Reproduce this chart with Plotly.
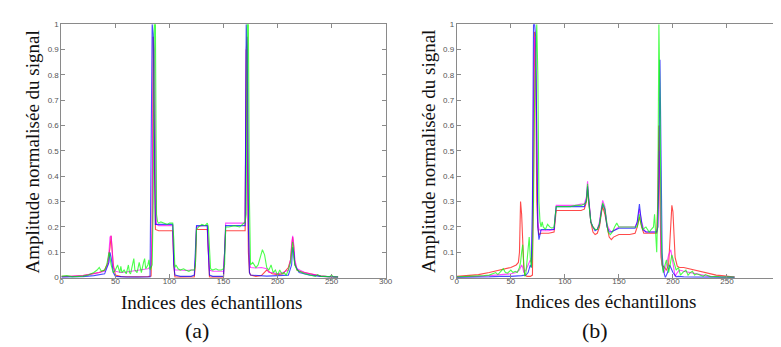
import plotly.graph_objects as go

# ---------------- data: (sample index, normalised amplitude) ----------------
a_red = [(0,0.005),(10,0.005),(20,0.008),(25,0.012),(30,0.015),(35,0.02),(40,0.03),(43,0.06),(45,0.12),(46,0.165),(48,0.05),(50,0.01),(55,0.004),(60,0.003),(70,0.003),(80,0.004),(83,0.006),(84,0.2),(85,0.95),(86,0.45),(87,0.19),(90,0.185),(95,0.185),(100,0.186),(103,0.185),(104,0.05),(105,0.003),(110,0.002),(115,0.002),(120,0.002),(123,0.003),(124,0.05),(125,0.19),(130,0.19),(135,0.19),(136,0.1),(137,0.003),(140,0.002),(145,0.002),(150,0.002),(151,0.1),(152,0.185),(155,0.185),(160,0.186),(165,0.185),(170,0.185),(171,0.9),(172,0.45),(173,0.1),(174,0.02),(175,0.01),(180,0.005),(185,0.008),(190,0.03),(195,0.015),(200,0.012),(205,0.015),(210,0.04),(212,0.07),(213,0.12),(214,0.16),(215,0.12),(216,0.06),(218,0.03),(220,0.025),(225,0.02),(230,0.015),(235,0.01),(240,0.006),(245,0.004),(250,0.003),(256,0.002)]

a_magenta = [(0,0.003),(10,0.005),(20,0.008),(25,0.012),(30,0.015),(35,0.02),(40,0.025),(43,0.05),(44,0.1),(45,0.16),(46,0.165),(47,0.1),(48,0.04),(50,0.025),(55,0.02),(60,0.022),(65,0.025),(70,0.028),(75,0.03),(80,0.035),(82,0.04),(83,0.045),(84,0.2),(85,0.95),(86,0.9),(87,0.4),(88,0.21),(90,0.205),(95,0.205),(100,0.205),(103,0.205),(104,0.06),(105,0.03),(110,0.03),(115,0.028),(120,0.03),(123,0.03),(124,0.08),(125,0.2),(130,0.205),(135,0.205),(136,0.1),(137,0.03),(140,0.025),(145,0.025),(150,0.025),(151,0.1),(152,0.215),(155,0.215),(160,0.215),(165,0.215),(170,0.215),(171,0.9),(172,0.95),(173,0.3),(174,0.06),(175,0.04),(180,0.038),(185,0.04),(190,0.035),(192,0.02),(195,0.02),(200,0.015),(205,0.02),(210,0.03),(212,0.07),(213,0.13),(214,0.165),(215,0.13),(216,0.07),(218,0.035),(220,0.03),(225,0.02),(230,0.015),(235,0.01),(240,0.007),(245,0.005),(250,0.004),(256,0.002)]

a_blue = [(0,0.002),(10,0.002),(20,0.004),(30,0.008),(40,0.015),(44,0.06),(45,0.1),(46,0.08),(48,0.02),(50,0.005),(60,0.002),(70,0.002),(80,0.002),(82,0.003),(83,0.5),(84,1.0),(85,0.96),(86,0.5),(87,0.21),(90,0.21),(95,0.21),(100,0.21),(103,0.21),(104,0.05),(105,0.01),(110,0.005),(120,0.005),(123,0.01),(124,0.1),(125,0.205),(130,0.205),(135,0.205),(136,0.1),(137,0.01),(140,0.005),(150,0.005),(151,0.1),(152,0.205),(160,0.205),(170,0.205),(171,1.0),(172,0.9),(173,0.2),(174,0.02),(175,0.01),(180,0.008),(190,0.006),(200,0.008),(210,0.01),(213,0.05),(214,0.12),(215,0.1),(216,0.05),(220,0.02),(230,0.01),(240,0.005),(250,0.003),(256,0.002)]

a_green = [(0,0.005),(5,0.008),(10,0.003),(15,0.004),(20,0.006),(25,0.01),(30,0.02),(33,0.03),(35,0.04),(37,0.025),(40,0.03),(42,0.05),(44,0.1),(45,0.08),(46,0.05),(48,0.02),(50,0.03),(52,0.05),(54,0.02),(55,0.045),(56,0.02),(58,0.03),(60,0.015),(62,0.05),(63,0.02),(64,0.015),(66,0.06),(67,0.075),(68,0.03),(70,0.02),(72,0.06),(73,0.03),(74,0.02),(76,0.06),(77,0.075),(78,0.035),(80,0.05),(81,0.07),(82,0.03),(83,0.04),(84,0.05),(85,0.3),(86,1.0),(87,1.0),(88,0.25),(89,0.22),(90,0.215),(92,0.22),(95,0.215),(98,0.21),(100,0.215),(103,0.215),(104,0.15),(105,0.04),(106,0.05),(108,0.035),(110,0.03),(113,0.035),(115,0.03),(118,0.025),(120,0.03),(123,0.03),(124,0.05),(125,0.19),(127,0.2),(130,0.21),(133,0.205),(135,0.215),(136,0.2),(137,0.08),(138,0.035),(140,0.03),(143,0.035),(145,0.03),(148,0.03),(150,0.035),(151,0.05),(152,0.2),(155,0.2),(160,0.205),(165,0.2),(170,0.22),(171,0.25),(172,1.0),(173,1.0),(174,0.3),(175,0.05),(177,0.06),(180,0.04),(182,0.05),(184,0.08),(186,0.11),(188,0.09),(190,0.04),(192,0.03),(194,0.05),(196,0.02),(198,0.03),(200,0.01),(202,0.03),(204,0.015),(206,0.02),(208,0.01),(210,0.03),(212,0.06),(213,0.12),(214,0.14),(215,0.08),(216,0.05),(218,0.03),(220,0.025),(222,0.02),(225,0.015),(228,0.012),(230,0.01),(233,0.01),(235,0.005),(237,0.012),(240,0.005),(245,0.005),(248,0.003),(250,0.01),(252,0.002),(256,0.003)]

b_red = [(0,0.005),(10,0.008),(20,0.012),(30,0.02),(40,0.03),(50,0.04),(55,0.05),(57,0.06),(58,0.1),(59,0.3),(60,0.25),(61,0.1),(62,0.04),(63,0.01),(65,0.005),(68,0.005),(70,0.01),(71,0.4),(72,0.97),(73,0.8),(74,0.3),(75,0.2),(76,0.17),(78,0.175),(80,0.175),(85,0.175),(90,0.18),(91,0.24),(92,0.265),(95,0.265),(100,0.265),(105,0.265),(110,0.265),(115,0.265),(118,0.27),(120,0.3),(121,0.35),(122,0.3),(124,0.22),(126,0.18),(128,0.17),(130,0.175),(132,0.2),(134,0.26),(135,0.28),(137,0.25),(139,0.2),(141,0.16),(143,0.15),(145,0.16),(150,0.17),(155,0.17),(160,0.17),(165,0.175),(167,0.2),(169,0.24),(171,0.2),(173,0.175),(175,0.175),(180,0.175),(185,0.175),(186,0.3),(187,0.6),(188,0.3),(189,0.08),(190,0.05),(192,0.04),(194,0.03),(196,0.05),(198,0.2),(199,0.285),(200,0.26),(201,0.15),(202,0.08),(204,0.045),(206,0.04),(210,0.04),(215,0.035),(220,0.03),(225,0.025),(230,0.02),(235,0.015),(240,0.01),(245,0.008),(250,0.005),(255,0.003),(257,0.002)]

b_magenta = [(0,0.002),(10,0.003),(20,0.005),(30,0.008),(40,0.012),(50,0.015),(55,0.02),(58,0.03),(60,0.05),(61,0.04),(62,0.02),(64,0.03),(66,0.05),(67,0.06),(68,0.07),(69,0.06),(70,0.2),(71,0.7),(72,0.95),(73,0.9),(74,0.5),(75,0.22),(76,0.19),(78,0.185),(80,0.185),(85,0.185),(90,0.19),(91,0.25),(92,0.285),(95,0.285),(100,0.285),(105,0.285),(110,0.285),(115,0.29),(118,0.29),(120,0.32),(121,0.38),(122,0.32),(124,0.22),(126,0.2),(128,0.19),(130,0.19),(132,0.22),(134,0.28),(135,0.305),(137,0.28),(139,0.21),(141,0.19),(143,0.18),(145,0.185),(150,0.2),(155,0.2),(160,0.2),(165,0.2),(167,0.22),(169,0.27),(171,0.22),(173,0.19),(175,0.18),(180,0.18),(185,0.18),(186,0.2),(187,0.5),(188,0.4),(189,0.1),(190,0.05),(192,0.02),(194,0.05),(196,0.09),(198,0.11),(200,0.05),(202,0.005),(204,0.02),(206,0.03),(210,0.025),(215,0.02),(220,0.015),(225,0.01),(230,0.008),(235,0.005),(240,0.003),(245,0.002),(250,0.002),(257,0.002)]

b_blue = [(0,0.001),(10,0.001),(20,0.002),(30,0.003),(40,0.005),(50,0.005),(60,0.008),(64,0.01),(66,0.02),(68,0.05),(69,0.04),(70,0.3),(71,1.0),(72,1.0),(73,0.95),(74,0.6),(75,0.2),(76,0.15),(77,0.17),(78,0.19),(80,0.19),(85,0.19),(90,0.19),(91,0.24),(92,0.28),(95,0.28),(100,0.28),(105,0.28),(110,0.28),(115,0.28),(118,0.28),(120,0.31),(121,0.36),(122,0.31),(124,0.22),(126,0.2),(128,0.185),(130,0.19),(132,0.21),(134,0.27),(135,0.29),(137,0.27),(139,0.2),(141,0.18),(143,0.18),(145,0.185),(150,0.195),(155,0.195),(160,0.195),(165,0.195),(167,0.22),(168,0.27),(169,0.29),(170,0.25),(172,0.19),(175,0.18),(180,0.18),(185,0.18),(186,0.2),(187,0.4),(188,0.86),(189,0.5),(190,0.1),(191,0.03),(193,0.0),(195,0.02),(197,0.05),(200,0.02),(203,0.003),(205,0.005),(210,0.003),(220,0.002),(230,0.002),(240,0.001),(250,0.001),(257,0.001)]

b_green = [(0,0.003),(5,0.004),(10,0.003),(15,0.005),(20,0.006),(25,0.008),(30,0.01),(33,0.015),(36,0.02),(38,0.012),(40,0.02),(43,0.035),(45,0.02),(47,0.018),(50,0.03),(52,0.02),(54,0.025),(56,0.02),(58,0.04),(59,0.06),(60,0.1),(61,0.13),(62,0.05),(63,0.005),(64,0.02),(65,0.06),(66,0.12),(67,0.16),(68,0.08),(69,0.04),(70,0.1),(71,0.3),(72,0.7),(73,0.9),(74,1.0),(75,0.8),(76,0.3),(77,0.22),(78,0.2),(79,0.22),(80,0.2),(82,0.19),(84,0.21),(86,0.2),(88,0.195),(90,0.2),(91,0.26),(92,0.28),(95,0.28),(100,0.28),(105,0.28),(110,0.285),(115,0.285),(118,0.29),(120,0.3),(121,0.37),(122,0.3),(124,0.22),(126,0.2),(128,0.19),(130,0.19),(132,0.21),(134,0.27),(135,0.295),(137,0.27),(139,0.2),(140,0.18),(142,0.17),(144,0.18),(146,0.2),(148,0.215),(150,0.2),(152,0.2),(155,0.2),(160,0.2),(165,0.2),(167,0.2),(168,0.22),(169,0.25),(170,0.22),(172,0.19),(175,0.2),(178,0.18),(180,0.19),(182,0.2),(183,0.25),(184,0.18),(185,0.1),(186,0.3),(187,1.0),(188,0.7),(189,0.2),(190,0.05),(191,0.02),(192,0.04),(194,0.07),(195,0.05),(196,0.02),(197,0.04),(199,0.09),(201,0.06),(203,0.03),(205,0.04),(207,0.01),(209,0.02),(212,0.03),(214,0.01),(216,0.02),(218,0.025),(220,0.01),(222,0.015),(225,0.01),(228,0.005),(230,0.012),(235,0.003),(240,0.005),(245,0.002),(250,0.003),(255,0.002),(257,0.002)]

x_ticks = [0, 50, 100, 150, 200, 250, 300]
y_ticks = [0, 0.1, 0.2, 0.3, 0.4, 0.5, 0.6, 0.7, 0.8, 0.9, 1]
y_tick_text = ["0", "0.1", "0.2", "0.3", "0.4", "0.5", "0.6", "0.7", "0.8", "0.9", "1"]
x_title = "Indices des échantillons"
y_title = "Amplitude normalisée du signal"
panel_labels = ["(a)", "(b)"]

colors = {"red": "#ff0000", "magenta": "#ff00ff", "blue": "#0000ff", "green": "#00ff00"}

panels = [
    [("red", a_red), ("magenta", a_magenta), ("blue", a_blue), ("green", a_green)],
    [("red", b_red), ("magenta", b_magenta), ("blue", b_blue), ("green", b_green)],
]

fig = go.Figure()
for i, series in enumerate(panels):
    xa = "x" if i == 0 else "x2"
    ya = "y" if i == 0 else "y2"
    for name, pts in series:
        xs = [p[0] for p in pts]
        ys = [p[1] for p in pts]
        fig.add_trace(go.Scatter(x=xs, y=ys, mode="lines", xaxis=xa, yaxis=ya,
                                 line=dict(color=colors[name], width=1.1),
                                 opacity=0.7, showlegend=False, hoverinfo="skip"))

W, H = 781, 347
frame = "#8a8a8a"
tickfont = dict(family="Liberation Sans", size=8, color="#555555")
common_x = dict(range=[0, 300], tickvals=x_ticks, ticks="inside", ticklen=4, tickcolor=frame,
                showline=True, linecolor=frame, linewidth=1, mirror="ticks", showgrid=False,
                zeroline=False, tickfont=tickfont, ticklabelstandoff=-4)
common_y = dict(range=[0, 1], tickvals=y_ticks, ticktext=y_tick_text, ticks="inside", ticklen=4,
                tickcolor=frame, showline=True, linecolor=frame, linewidth=1, mirror="ticks",
                showgrid=False, zeroline=False, tickfont=tickfont)

ydom = [(347 - 272.7) / H, (347 - 12.5) / H]
fig.update_layout(
    width=W, height=H, margin=dict(l=0, r=0, t=0, b=0),
    paper_bgcolor="white", plot_bgcolor="white",
    font=dict(family="Liberation Serif"),
    xaxis=dict(domain=[52 / W, 380 / W], anchor="y", **common_x),
    yaxis=dict(domain=ydom, anchor="x", **common_y),
    xaxis2=dict(domain=[452 / W, 780 / W], anchor="y2", **common_x),
    yaxis2=dict(domain=ydom, anchor="x2", **common_y),
)

serif = "Liberation Serif"
anns = []
for cx, cy in [(204.5, 298), (603, 297)]:
    anns.append(dict(text=x_title, x=cx / W, y=1 - cy / H, xref="paper", yref="paper",
                     showarrow=False, xanchor="center", yanchor="middle",
                     font=dict(family=serif, size=19, color="#111111")))
for cx, cy in [(23, 143.5), (424, 143.5)]:
    anns.append(dict(text=y_title, x=cx / W, y=1 - cy / H, xref="paper", yref="paper",
                     showarrow=False, xanchor="center", yanchor="middle", textangle=-90,
                     font=dict(family=serif, size=19, color="#111111")))
for lab, cx in zip(panel_labels, [189, 592]):
    anns.append(dict(text=lab, x=cx / W, y=1 - 327 / H, xref="paper", yref="paper",
                     showarrow=False, xanchor="center", yanchor="middle",
                     font=dict(family=serif, size=22, color="#111111")))
fig.update_layout(annotations=anns)

fig.write_html("out.html")
